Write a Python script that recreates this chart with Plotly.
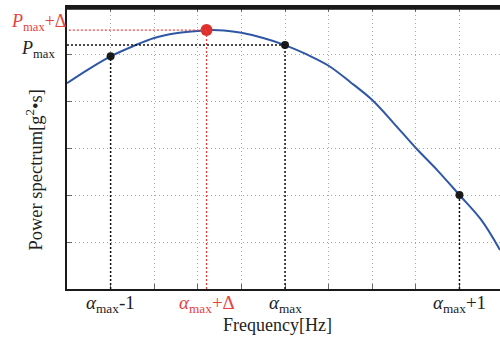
import plotly.graph_objects as go

# Curve samples (x in tick units, y in grid units)
curve_x = [0, 0.5, 1, 1.5, 2, 2.5, 3, 3.3, 3.6, 4, 4.5, 5, 5.5, 6, 6.5, 7, 7.5, 8, 8.5, 9, 9.5, 9.93]
curve_y = [4.38, 4.68, 4.95, 5.16, 5.34, 5.44, 5.49, 5.51, 5.50, 5.45, 5.34, 5.19, 4.99, 4.75, 4.40, 4.02, 3.52, 3.0, 2.52, 2.0, 1.47, 0.83]

# Marked points
black_x = [1, 5, 9]
black_y = [4.95, 5.19, 2.0]
red_x = [3.2]
red_y = [5.51]

# Tick labels
xtick_vals = [1, 3.2, 5, 9]
xtick_text = ["<i>α</i><sub>max</sub>-1", "<i>α</i><sub>max</sub>+Δ", "<i>α</i><sub>max</sub>", "<i>α</i><sub>max</sub>+1"]
xtick_colors = ["#222222", "#e8413c", "#222222", "#222222"]
ylab_vals = [5.66, 5.10]
ylab_text = ["<i>P</i><sub>max</sub>+Δ", "<i>P</i><sub>max</sub>"]
ylab_colors = ["#e8413c", "#222222"]

RED = "#e8413c"
BLUE = "#2f57a5"
FONT = "Liberation Serif"

fig = go.Figure()

# reference lines
shapes = []
for xv, yv in zip(black_x, black_y):
    shapes.append(dict(type="line", xref="x", yref="y", x0=xv, x1=xv, y0=0, y1=yv,
                       line=dict(color="#111111", width=1.5, dash="2px,2px")))
shapes.append(dict(type="line", xref="x", yref="y", x0=0, x1=black_x[1], y0=black_y[1], y1=black_y[1],
                   line=dict(color="#111111", width=1.5, dash="2px,2px")))
shapes.append(dict(type="line", xref="x", yref="y", x0=red_x[0], x1=red_x[0], y0=0, y1=red_y[0],
                   line=dict(color=RED, width=1.3, dash="2px,2px")))
shapes.append(dict(type="line", xref="x", yref="y", x0=-0.05, x1=red_x[0], y0=red_y[0], y1=red_y[0],
                   line=dict(color=RED, width=1.3, dash="2px,2px")))
# top frame band
shapes.append(dict(type="rect", xref="paper", yref="paper", x0=0, x1=1, y0=0.9905, y1=1.004,
                   fillcolor="#1a1a1a", line=dict(width=0), layer="above"))

fig.add_trace(go.Scatter(x=curve_x, y=curve_y, mode="lines", line=dict(color=BLUE, width=2, shape="spline"),
                         hoverinfo="skip", showlegend=False))
fig.add_trace(go.Scatter(x=black_x, y=black_y, mode="markers", marker=dict(color="#1a1a1a", size=8),
                         showlegend=False))
fig.add_trace(go.Scatter(x=red_x, y=red_y, mode="markers", marker=dict(color="#e0302c", size=12),
                         showlegend=False, cliponaxis=False))

annotations = []
for xv, t, c in zip(xtick_vals, xtick_text, xtick_colors):
    annotations.append(dict(x=xv, y=0, xref="x", yref="paper", text=t, showarrow=False,
                            xanchor="center", yanchor="top", yshift=-1,
                            font=dict(family=FONT, size=19, color=c)))
for yv, t, c in zip(ylab_vals, ylab_text, ylab_colors):
    annotations.append(dict(x=0, y=yv, xref="paper", yref="y", text=t, showarrow=False,
                            xanchor="center", yanchor="middle", xshift=-29,
                            font=dict(family=FONT, size=18, color=c)))
annotations.append(dict(x=0.485, y=0, xref="paper", yref="paper", text="Frequency[Hz]", showarrow=False,
                        xanchor="center", yanchor="middle", yshift=-36,
                        font=dict(family=FONT, size=18, color="#222222")))
annotations.append(dict(x=0, y=0.42, xref="paper", yref="paper", text="Power spectrum[g<sup>2</sup>•s]",
                        showarrow=False, textangle=-90, xanchor="center", yanchor="middle", xshift=-33,
                        font=dict(family=FONT, size=18.5, color="#222222")))

fig.update_layout(
    width=500, height=339,
    margin=dict(l=67, r=0, t=7, b=50),
    paper_bgcolor="white", plot_bgcolor="white",
    shapes=shapes, annotations=annotations,
    showlegend=False,
)
fig.update_xaxes(range=[0, 9.93], showline=True, linewidth=2, linecolor="#1a1a1a", mirror="ticks",
                 ticks="inside", ticklen=5, tickcolor="#666666", tickvals=list(range(1, 10)),
                 showticklabels=False, showgrid=True, gridcolor="#a8a8a8", gridwidth=1, griddash="1px,3px",
                 zeroline=False)
fig.update_yaxes(range=[0, 6], showline=True, linewidth=2, linecolor="#1a1a1a",
                 ticks="inside", ticklen=5, tickcolor="#666666", tickvals=[1, 2, 3, 4, 5],
                 showticklabels=False, showgrid=True, gridcolor="#a8a8a8", gridwidth=1, griddash="1px,3px",
                 zeroline=False)

fig.write_html("out.html", config={"displayModeBar": False},
               post_script="document.body.style.margin='0';document.body.style.overflow='hidden';")
